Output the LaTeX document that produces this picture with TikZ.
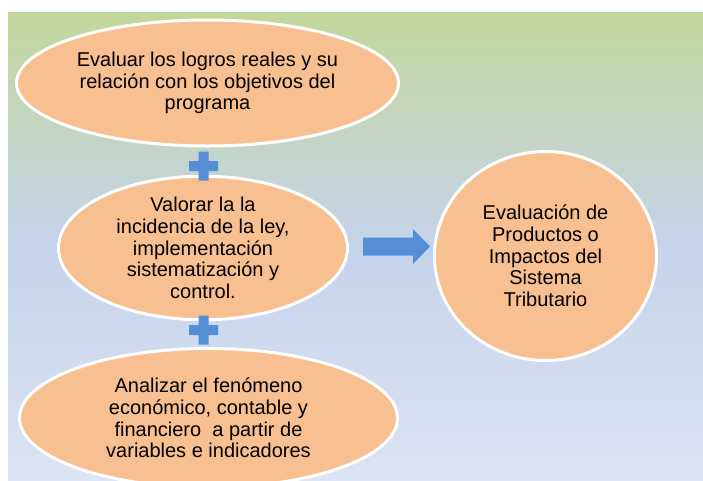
\documentclass[tikz,border=0pt]{standalone}
\usepackage{fontspec}
\setmainfont{Liberation Sans}
\usetikzlibrary{shapes.geometric}
\definecolor{peach}{RGB}{248,192,144}
\definecolor{plusblue}{RGB}{85,142,213}
\definecolor{bgtop}{RGB}{195,214,155}
\definecolor{bgmid}{RGB}{197,211,235}
\definecolor{bgbot}{RGB}{220,227,242}
\begin{document}
\begin{tikzpicture}[x=1pt,y=-1pt,
  oval/.style={ellipse, draw=white, line width=3pt, fill=peach, inner sep=0pt,
    align=center, font=\fontsize{20}{21.7}\selectfont},
  plusmark/.style={fill=plusblue},
  blockarrow/.style={fill=plusblue}]
\useasboundingbox (0,0) rectangle (703,480);
\shade[top color=bgtop, bottom color=bgbot, middle color=bgmid] (8,12) rectangle (703,480);

\node[oval, minimum width=382pt, minimum height=126pt] (e1) at (207.5,83)
  {Evaluar los logros reales y su\\relación con los objetivos del\\programa};
\node[oval, minimum width=289pt, minimum height=117pt] (e2) at (203,248)
  {Valorar la la\\incidencia de la ley,\\implementación\\sistematización y\\control.};
\node[oval, minimum width=378pt, minimum height=139pt] (e3) at (208.5,418)
  {Analizar el fenómeno\\económico, contable y\\financiero\ \ a partir de\\variables e indicadores};
\node[oval, minimum width=222pt, minimum height=209pt] (c) at (545.5,256)
  {Evaluación de\\Productos o\\Impactos del\\Sistema\\Tributario};

\coordinate (p1) at (203.5,166);
\coordinate (p2) at (203.5,330);
\foreach \p in {p1,p2}{
  \fill[plusmark] ([shift={(-14.5,-5)}]\p) -- ([shift={(-5,-5)}]\p) -- ([shift={(-5,-14.5)}]\p)
    -- ([shift={(5,-14.5)}]\p) -- ([shift={(5,-5)}]\p) -- ([shift={(14.5,-5)}]\p)
    -- ([shift={(14.5,5)}]\p) -- ([shift={(5,5)}]\p) -- ([shift={(5,14.5)}]\p)
    -- ([shift={(-5,14.5)}]\p) -- ([shift={(-5,5)}]\p) -- ([shift={(-14.5,5)}]\p) -- cycle;
}

\coordinate (a) at (363,246.5);
\fill[blockarrow] ([shift={(0,-9)}]a) -- ([shift={(50,-9)}]a) -- ([shift={(50,-17.5)}]a)
  -- ([shift={(67,0)}]a) -- ([shift={(50,17.5)}]a) -- ([shift={(50,9)}]a) -- ([shift={(0,9)}]a) -- cycle;
\end{tikzpicture}
\end{document}
